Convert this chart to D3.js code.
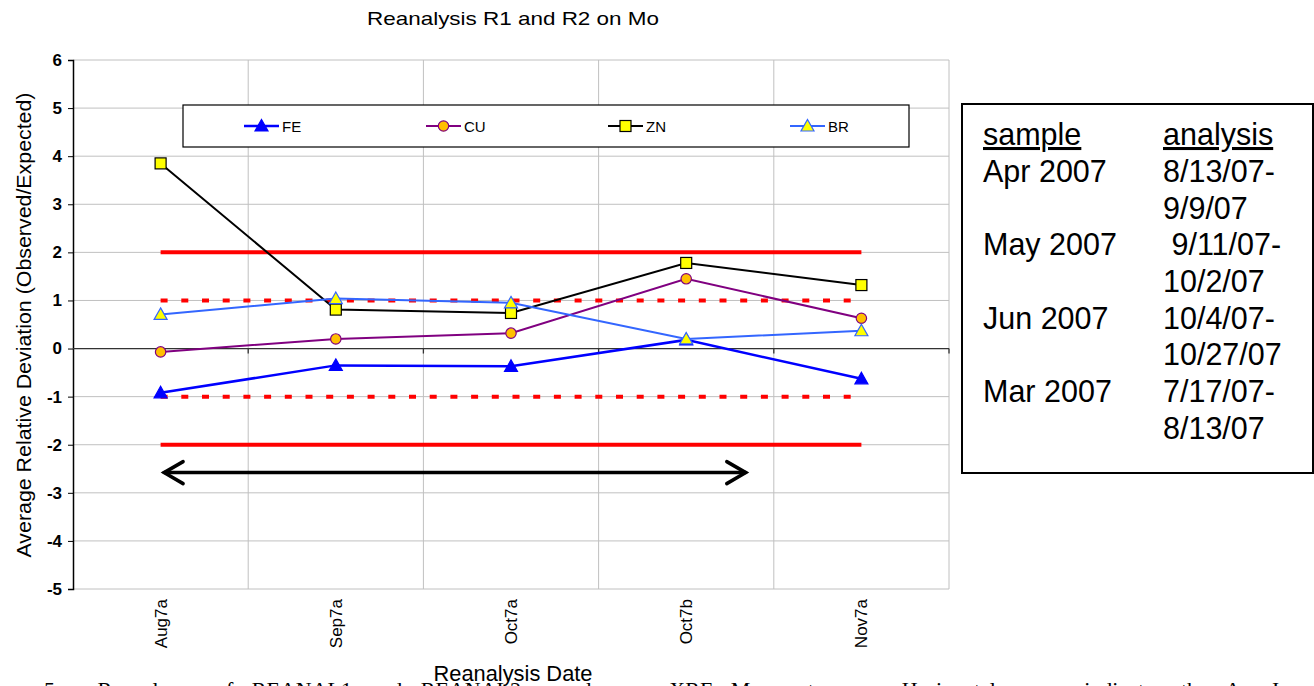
<!DOCTYPE html>
<meta charset="utf-8">
<title>Reanalysis R1 and R2 on Mo</title>
<style>
body { margin: 0; background: #fff; }
svg { display: block; font-family: "Liberation Sans", Arial, sans-serif; }
.grid line { stroke: #c0c0c0; stroke-width: 1px; }
</style>
<script src="https://d3js.org/d3.v7.min.js"></script>
<body>
<script>
// values
var categories = ["Aug7a", "Sep7a", "Oct7a", "Oct7b", "Nov7a"];
var feValues = [-0.92, -0.35, -0.37, 0.18, -0.63];
var cuValues = [-0.07, 0.20, 0.32, 1.45, 0.63];
var znValues = [3.85, 0.81, 0.74, 1.78, 1.32];
var brValues = [0.71, 1.04, 0.95, 0.20, 0.37];
var yTicks = [-5, -4, -3, -2, -1, 0, 1, 2, 3, 4, 5, 6];
var solidLimits = [2, -2];
var dottedLimits = [1, -1];
// double arrow: category index span and height
var arrowSpan = [0.02, 3.34];
var arrowValue = -2.58;

var sampleRows = ["Apr 2007", "May 2007", "Jun 2007", "Mar 2007"];
var analysisRows = [["8/13/07-", "9/9/07"], [" 9/11/07-", "10/2/07"], ["10/4/07-", "10/27/07"], ["7/17/07-", "8/13/07"]];

var width = 1314, height = 686;
var plotLeft = 73, plotRight = 949, plotTop = 60, plotBottom = 589;

var series = [
  {name: "FE", values: feValues, color: "#0000ff", marker: "triangle", fill: "#0000ff", stroke: "#0000ff", w: 2.5},
  {name: "CU", values: cuValues, color: "#800080", marker: "circle", fill: "#ffc000", stroke: "#800080", w: 2},
  {name: "ZN", values: znValues, color: "#000000", marker: "square", fill: "#ffff00", stroke: "#000000", w: 2},
  {name: "BR", values: brValues, color: "#3366ff", marker: "triangle", fill: "#ffff00", stroke: "#3366ff", w: 2}
];

var svg = d3.select("body").append("svg")
    .attr("width", width)
    .attr("height", height);

var x = d3.scaleBand().domain(categories).range([plotLeft, plotRight]);
var xi = d3.scaleLinear().domain([-0.5, categories.length - 0.5]).range([plotLeft, plotRight]);
var y = d3.scaleLinear().domain([-5, 6]).range([plotBottom, plotTop]);
function cx(c) { return x(c) + x.bandwidth() / 2; }

// gridlines
var grid = svg.append("g").attr("class", "grid");
grid.selectAll(".h").data(yTicks).enter().append("line")
    .attr("x1", plotLeft).attr("x2", plotRight)
    .attr("y1", function(d) { return y(d); }).attr("y2", function(d) { return y(d); });
grid.selectAll(".v").data(categories).enter().append("line")
    .attr("x1", function(d) { return x(d) + x.bandwidth(); })
    .attr("x2", function(d) { return x(d) + x.bandwidth(); })
    .attr("y1", plotTop).attr("y2", plotBottom);

// y axis
var yAxis = svg.append("g")
    .attr("transform", "translate(" + plotLeft + ",0)")
    .call(d3.axisLeft(y).tickValues(yTicks).tickSize(5).tickPadding(6).tickFormat(function(d) { return String(d); }));
yAxis.select(".domain").attr("stroke", "#000").attr("stroke-width", 1.5);
yAxis.selectAll("text")
    .attr("fill", "#000")
    .style("font-family", "Liberation Sans, Arial, sans-serif")
    .style("font-size", "17px").style("font-weight", "bold");

// x axis along zero
var xAxis = svg.append("g").attr("transform", "translate(0," + y(0) + ")");
xAxis.append("line").attr("x1", plotLeft).attr("x2", plotRight).attr("stroke", "#333").attr("stroke-width", 1.3);
xAxis.selectAll(".tk").data(categories).enter().append("line")
    .attr("x1", function(d) { return x(d) + x.bandwidth(); })
    .attr("x2", function(d) { return x(d) + x.bandwidth(); })
    .attr("y1", 0).attr("y2", 5)
    .attr("stroke", "#333").attr("stroke-width", 1.3);

// category labels
svg.append("g").selectAll("text").data(categories).enter().append("text")
    .attr("transform", function(d) { return "translate(" + (cx(d) + 6) + ",599) rotate(-90)"; })
    .attr("text-anchor", "end")
    .attr("font-size", 17)
    .text(function(d) { return d; });

// reference lines
var xa = cx(categories[0]), xb = cx(categories[categories.length - 1]);
svg.append("g").selectAll("line").data(solidLimits).enter().append("line")
    .attr("x1", xa).attr("x2", xb)
    .attr("y1", function(d) { return y(d); }).attr("y2", function(d) { return y(d); })
    .attr("stroke", "#ff0000").attr("stroke-width", 4);
svg.append("g").selectAll("line").data(dottedLimits).enter().append("line")
    .attr("x1", xa).attr("x2", xb)
    .attr("y1", function(d) { return y(d); }).attr("y2", function(d) { return y(d); })
    .attr("stroke", "#ff0000").attr("stroke-width", 4)
    .attr("stroke-dasharray", "7,13.7");

// double-headed arrow
var ax1 = xi(arrowSpan[0]), ax2 = xi(arrowSpan[1]), ay = y(arrowValue);
var arrow = svg.append("g")
    .attr("stroke", "#000").attr("stroke-width", 3.5).attr("fill", "none")
    .attr("stroke-linecap", "round").attr("stroke-linejoin", "miter");
arrow.append("line").attr("x1", ax1).attr("x2", ax2).attr("y1", ay).attr("y2", ay);
arrow.append("path").attr("d", "M" + (ax1 + 19) + "," + (ay - 11) + "L" + ax1 + "," + ay + "L" + (ax1 + 19) + "," + (ay + 11));
arrow.append("path").attr("d", "M" + (ax2 - 19) + "," + (ay - 11) + "L" + ax2 + "," + ay + "L" + (ax2 - 19) + "," + (ay + 11));

// markers
function drawMarker(g, s, px, py) {
  if (s.marker === "circle") {
    g.append("circle").attr("cx", px).attr("cy", py).attr("r", 5.2)
      .attr("fill", s.fill).attr("stroke", s.stroke).attr("stroke-width", 1.2);
  } else if (s.marker === "square") {
    g.append("rect").attr("x", px - 5.5).attr("y", py - 5.5).attr("width", 11).attr("height", 11)
      .attr("fill", s.fill).attr("stroke", s.stroke).attr("stroke-width", 1.2);
  } else {
    g.append("path").attr("d", "M" + px + "," + (py - 6.5) + "L" + (px + 6.5) + "," + (py + 5) + "L" + (px - 6.5) + "," + (py + 5) + "Z")
      .attr("fill", s.fill).attr("stroke", s.stroke).attr("stroke-width", 1.2);
  }
}

var line = d3.line()
    .x(function(d, i) { return cx(categories[i]); })
    .y(function(d) { return y(d); });

series.forEach(function(s) {
  var g = svg.append("g");
  g.append("path").attr("d", line(s.values))
    .attr("fill", "none").attr("stroke", s.color).attr("stroke-width", s.w);
  s.values.forEach(function(v, i) { drawMarker(g, s, cx(categories[i]), y(v)); });
});

// legend
var lg = svg.append("g");
lg.append("rect").attr("x", 183).attr("y", 105).attr("width", 726).attr("height", 42)
    .attr("fill", "#fff").attr("stroke", "#000").attr("stroke-width", 1.2);
series.forEach(function(s, i) {
  var lx = 244 + i * 182, ly = 126;
  lg.append("line").attr("x1", lx).attr("x2", lx + 35).attr("y1", ly).attr("y2", ly)
    .attr("stroke", s.color).attr("stroke-width", s.w);
  drawMarker(lg, s, lx + 17.5, ly);
  lg.append("text").attr("x", lx + 38).attr("y", ly + 5.5).attr("font-size", 15).text(s.name);
});

// titles
svg.append("text").attr("x", 513).attr("y", 25).attr("text-anchor", "middle")
    .attr("font-size", 19).attr("textLength", 292).attr("lengthAdjust", "spacingAndGlyphs")
    .text("Reanalysis R1 and R2 on Mo");
svg.append("text").attr("transform", "translate(31,325) rotate(-90)").attr("text-anchor", "middle")
    .attr("font-size", 20).attr("textLength", 465).attr("lengthAdjust", "spacingAndGlyphs")
    .text("Average Relative Deviation (Observed/Expected)");

// caption from the document underneath (cut off at the bottom)
svg.append("text").attr("x", 44).attr("y", 697)
    .attr("font-family", "Liberation Serif, Times New Roman, serif").attr("font-size", 22)
    .attr("word-spacing", 13)
    .style("white-space", "pre")
    .text("5.  Reanalyses of REANAL1 and REANAL2 samples on XRF Mo system.   Horizontal arrow indicates the Aug-Jan");

svg.append("text").attr("x", 513).attr("y", 681).attr("text-anchor", "middle")
    .attr("font-size", 22).attr("textLength", 159).attr("lengthAdjust", "spacingAndGlyphs")
    .text("Reanalysis Date");

// sample / analysis box
var box = svg.append("g");
box.append("rect").attr("x", 962).attr("y", 104).attr("width", 351).attr("height", 369)
    .attr("fill", "#fff").attr("stroke", "#000").attr("stroke-width", 2);
box.append("text").attr("x", 983).attr("y", 145).attr("font-size", 30.5)
    .attr("text-decoration", "underline").text("sample");
box.append("text").attr("x", 1163).attr("y", 145).attr("font-size", 30.5)
    .attr("text-decoration", "underline").text("analysis");
sampleRows.forEach(function(r, i) {
  var by = 182 + i * 73.3;
  box.append("text").attr("x", 983).attr("y", by).attr("font-size", 30.5).text(r);
  box.append("text").attr("x", 1163).attr("y", by).attr("font-size", 30.5)
    .style("white-space", "pre").text(analysisRows[i][0]);
  box.append("text").attr("x", 1163).attr("y", by + 36.6).attr("font-size", 30.5).text(analysisRows[i][1]);
});
</script>
